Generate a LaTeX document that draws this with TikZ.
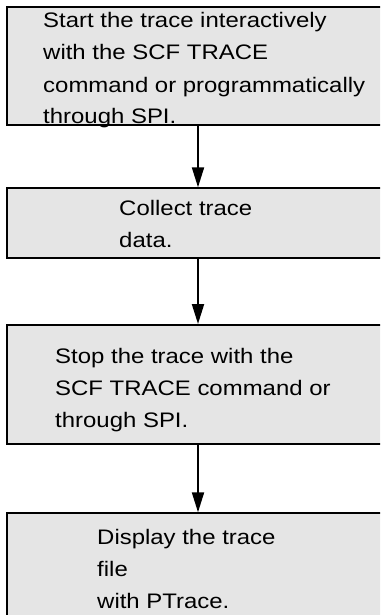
\documentclass[tikz,border=0pt]{standalone}
\usepackage{fontspec}
\setmainfont{Liberation Sans}
\usetikzlibrary{arrows.meta}
\definecolor{boxgray}{RGB}{229,229,229}
\tikzset{
  stepbox/.style={draw=black, line width=2pt, fill=boxgray, rectangle,
    minimum width=382pt, inner sep=0pt},
  % anchored at the baseline of the last line
  steptext/.style={anchor=base west, inner sep=0pt, align=left,
    font=\fontsize{21}{32}\selectfont, xscale=1.14, transform shape},
  flow/.style={line width=2pt, -{Triangle[length=20pt,width=12pt]}}
}
\begin{document}
\begin{tikzpicture}[x=1pt,y=-1pt]
  \useasboundingbox (0,0) rectangle (380,615);
  \clip (0,0) rectangle (380,615);
  % process boxes (they run off the right and bottom edges)
  \node[stepbox, minimum height=117.5pt] (b1) at (198,65.75) {};
  \node[stepbox, minimum height=69.4pt]  (b2) at (198,223) {};
  \node[stepbox, minimum height=119pt]   (b3) at (198,384.5) {};
  \node[stepbox, minimum height=117pt]   (b4) at (198,571.8) {};
  % step descriptions
  \node[steptext] (t1) at (43,124) {Start the trace interactively\\with the SCF TRACE\\command or programmatically\\through SPI.};
  \node[steptext] (t2) at (119,247) {Collect trace\\data.};
  \node[steptext] (t3) at (55,427) {Stop the trace with the\\SCF TRACE command or\\through SPI.};
  \node[steptext] (t4) at (97,608) {Display the trace\\file\\with PTrace.};
  % flow arrows
  \draw[flow] (b1.south) -- (b2.north);
  \draw[flow] (b2.south) -- (b3.north);
  \draw[flow] (b3.south) -- (b4.north);
\end{tikzpicture}
\end{document}
